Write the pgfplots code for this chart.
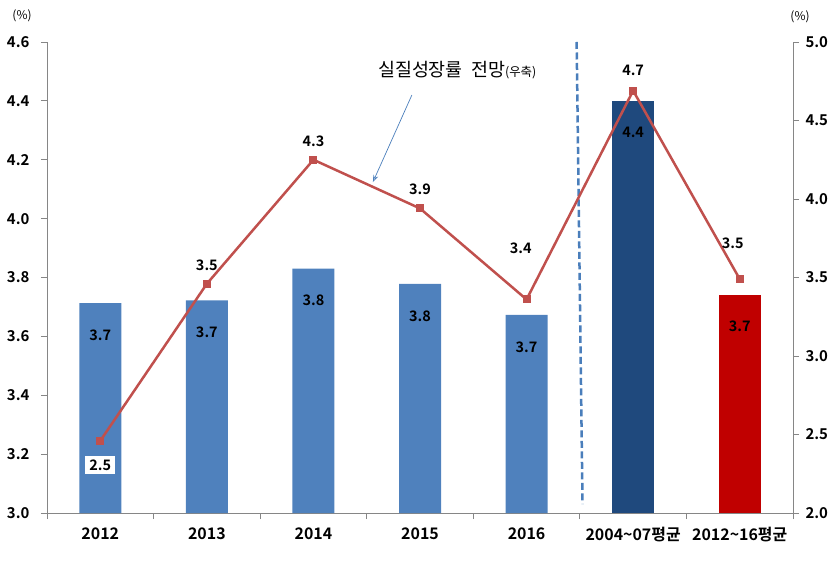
\documentclass[border=0pt]{standalone}
\usepackage{pgfplots}
\pgfplotsset{compat=1.18}
\usetikzlibrary{arrows.meta}
\usepackage{fontspec}
\setmainfont{Noto Sans CJK KR}[BoldFont={Noto Sans CJK KR Bold}]
\definecolor{barblue}{HTML}{4F81BD}
\definecolor{bardark}{HTML}{1F497D}
\definecolor{barred}{HTML}{C00000}
\definecolor{linered}{HTML}{C0504D}
\definecolor{axisgray}{HTML}{868686}
\definecolor{dashblue}{HTML}{4A7EBB}
\begin{document}
\begin{tikzpicture}
\begin{axis}[
  name=main,
  scale only axis, width=746bp, height=471bp,
  xmin=-0.5, xmax=6.5, ymin=3, ymax=4.6,
  axis x line*=bottom, axis y line*=left,
  axis line style={draw=axisgray, line width=0.8bp, -},
  tick style={draw=axisgray, line width=0.8bp},
  xtick={0,1,2,3,4,5,6},
  xticklabels={2012,2013,2014,2015,2016,2004\textasciitilde07평균,2012\textasciitilde16평균},
  major x tick style={draw=none},
  minor xtick={-0.5,0.5,1.5,2.5,3.5,4.5,5.5,6.5},
  minor tick length=6bp, major tick length=6bp,
  tick align=outside,
  ytick={3.0,3.2,3.4,3.6,3.8,4.0,4.2,4.4,4.6},
  yticklabel style={/pgf/number format/fixed, /pgf/number format/fixed zerofill, /pgf/number format/precision=1, xshift=-8bp, font=\fontsize{15}{15}\selectfont\bfseries},
  /pgf/number format/assume math mode=true,
  ticklabel style={font=\fontsize{15}{15}\selectfont\bfseries, text=black},
  xticklabel style={yshift=-5bp, font=\fontsize{16}{16}\selectfont\bfseries},
  ybar, bar width=42bp,
  nodes near coords,
  nodes near coords style={font=\fontsize{14.5}{14.5}\selectfont\bfseries, text=black, anchor=center, yshift=-32bp, /pgf/number format/fixed, /pgf/number format/fixed zerofill, /pgf/number format/precision=1},
  clip=false,
]
\addplot[fill=barblue, draw=none, bar shift=0pt] coordinates {(0,3.713) (1,3.722) (2,3.830) (3,3.778) (4,3.673)};
\addplot[fill=bardark, draw=none, bar shift=0pt] coordinates {(5,4.40)};
\addplot[fill=barred, draw=none, bar shift=0pt] coordinates {(6,3.742)};
\draw[dashblue, line width=2.5bp, dash pattern=on 7bp off 3.5bp] (axis cs:4.47,4.6) -- (axis cs:4.525,3.03);
\draw[dashblue, line width=0.7bp, -{Stealth[length=7bp, width=5bp, open]}] (axis cs:2.924,4.420) -- (axis cs:2.558,4.124);
\node[anchor=west, inner sep=0pt] at (axis cs:2.605,4.505) {\fontsize{18.5}{18.5}\selectfont 실질성장률\ \ 전망{\fontsize{12.5}{12.5}\selectfont(우축)}};
\node[font=\fontsize{12}{12}\selectfont] at (rel axis cs:-0.0335,1.055) {(\%)};
\end{axis}
\begin{axis}[
  scale only axis, width=746bp, height=471bp,
  xmin=-0.5, xmax=6.5, ymin=2, ymax=5,
  axis y line*=right, axis x line=none,
  axis line style={draw=axisgray, line width=0.8bp, -},
  tick style={draw=axisgray, line width=0.8bp},
  tick align=outside, major tick length=6bp,
  ytick={2.0,2.5,3.0,3.5,4.0,4.5,5.0},
  yticklabel style={/pgf/number format/fixed, /pgf/number format/fixed zerofill, /pgf/number format/precision=1, xshift=3bp},
  /pgf/number format/assume math mode=true,
  ticklabel style={font=\fontsize{15}{15}\selectfont\bfseries, text=black},
  clip=false,
]
\addplot[color=linered, line width=2.5bp, mark=square*, mark size=3.5bp, mark options={fill=linered, line width=0pt}] coordinates {(0,2.46) (1,3.46) (2,4.25) (3,3.94) (4,3.36) (5,4.69) (6,3.49)};
\begin{scope}[every node/.style={font=\fontsize{14.5}{14.5}\selectfont\bfseries, text=black}]
\node[fill=white, inner sep=4bp] at (axis cs:0,2.306) {2.5};
\node at (axis cs:1,3.580) {3.5};
\node at (axis cs:2,4.369) {4.3};
\node at (axis cs:3,4.064) {3.9};
\node at (axis cs:3.946,3.688) {3.4};
\node at (axis cs:5,4.822) {4.7};
\node at (axis cs:5.935,3.720) {3.5};
\end{scope}
\node[font=\fontsize{12}{12}\selectfont] at (rel axis cs:1.0094,1.053) {(\%)};
\end{axis}
\path ([shift={(-47bp,-56bp)}]main.south west) rectangle ++(838bp,569bp);
\end{tikzpicture}
\end{document}
